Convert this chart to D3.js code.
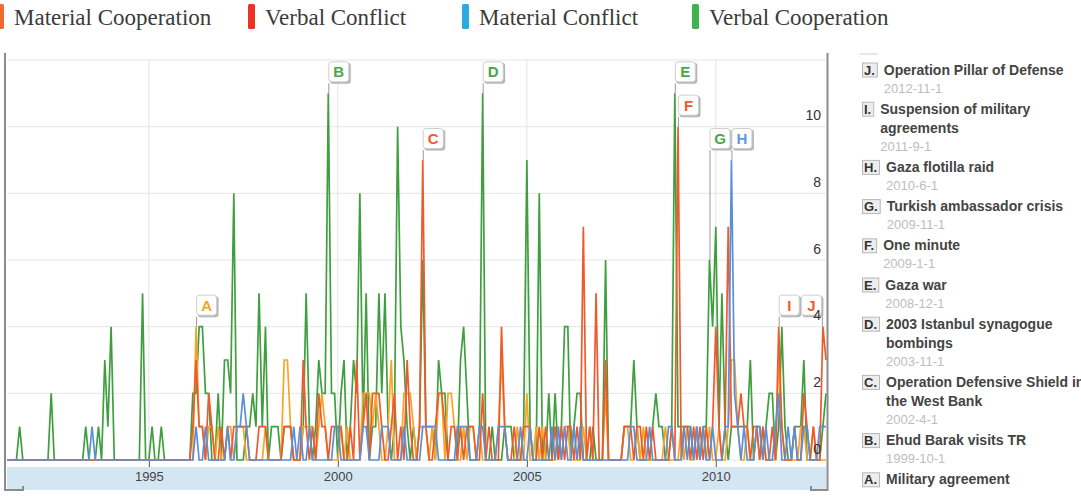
<!DOCTYPE html>
<html>
<head>
<meta charset="utf-8">
<script src="https://cdnjs.cloudflare.com/ajax/libs/d3/7.8.5/d3.min.js"></script>
<style>
body { margin: 0; background: #fff; }
svg { display: block; }
</style>
</head>
<body>
<div id="chart"></div>
<script>
// monthly event counts, April 1991 .. December 2012
var firstMonth = new Date(1991, 3, 1);

var verbalCooperation = [
  0,0,0,0,1,0,0,0,0,          // 1991 (Apr-Dec)
  0,0,0,0,0,2,0,0,0,0,0,0,    // 1992
  0,0,0,0,1,0,0,0,1,0,3,1,    // 1993
  4,0,0,0,0,0,0,0,0,0,5,0,    // 1994
  0,1,0,0,1,0,0,0,0,0,0,0,    // 1995
  0,0,2,2,4,4,2,2,0,0,2,0,    // 1996
  3,3,2,8,0,0,0,1,1,2,1,5,    // 1997
  1,4,0,1,1,1,0,1,1,1,0,0,    // 1998
  0,1,5,1,0,1,3,2,2,11,2,2,   // 1999
  0,2,3,0,1,3,2,8,1,5,0,1,    // 2000
  1,5,2,5,1,0,1,10,4,3,1,0,   // 2001
  1,0,1,6,1,1,1,0,3,2,2,0,    // 2002
  0,0,0,3,4,2,0,0,0,1,11,0,   // 2003
  0,1,0,0,0,1,1,1,0,0,0,1,    // 2004
  9,1,0,0,8,0,0,2,0,2,0,1,    // 2005
  4,4,0,1,2,2,0,0,0,1,0,0,    // 2006
  0,6,0,0,0,0,0,1,1,1,3,1,    // 2007
  0,0,0,0,1,2,1,1,0,0,1,11,   // 2008
  1,1,1,1,1,0,1,0,1,1,6,4,    // 2009
  7,1,5,1,0,1,1,1,1,1,1,3,    // 2010
  0,1,1,0,1,2,2,0,1,4,1,0,    // 2011
  0,1,1,1,3,0,0,0,0,0,1,2     // 2012
];

var materialCooperation = [
  0,0,0,0,0,0,0,0,0,
  0,0,0,0,0,0,0,0,0,0,0,0,
  0,0,0,0,0,0,0,0,0,0,0,0,
  0,0,0,0,0,0,0,0,0,0,0,0,
  0,0,0,0,0,0,0,0,0,0,0,0,
  0,0,0,4,1,1,0,1,1,0,1,0,    // 1996
  0,1,1,0,1,1,1,0,0,0,0,0,    // 1997
  0,1,0,0,0,0,0,3,3,1,0,0,    // 1998
  0,1,1,1,1,0,1,2,1,0,0,0,    // 1999
  0,1,0,1,0,0,0,0,2,2,2,1,    // 2000
  2,1,0,0,1,3,0,0,0,2,2,2,    // 2001
  1,0,1,1,1,0,1,0,2,2,0,2,    // 2002
  2,1,0,0,1,0,1,1,0,1,0,0,    // 2003
  0,0,0,1,3,1,0,0,0,1,0,0,    // 2004
  2,0,0,1,0,1,0,0,0,0,1,0,    // 2005
  1,1,0,0,0,0,1,0,1,0,0,0,    // 2006
  0,2,0,0,0,0,0,1,1,0,0,1,    // 2007
  0,1,0,0,0,0,0,0,1,0,0,0,    // 2008
  0,1,0,1,0,0,1,0,1,0,1,0,    // 2009
  0,1,0,0,1,3,3,1,0,0,1,0,    // 2010
  0,1,0,1,0,0,0,0,3,1,0,0,    // 2011
  0,0,0,1,1,0,0,1,0,0,0,0     // 2012
];

var verbalConflict = [
  0,0,0,0,0,0,0,0,0,
  0,0,0,0,0,0,0,0,0,0,0,0,
  0,0,0,0,0,0,0,0,0,0,0,0,
  0,0,0,0,0,0,0,0,0,0,0,0,
  0,0,0,0,0,0,0,0,0,0,0,0,
  0,0,1,3,1,1,0,2,1,0,0,1,    // 1996
  0,1,0,1,1,1,1,1,0,0,0,1,    // 1997
  1,1,0,0,0,0,0,1,1,1,0,0,    // 1998
  0,3,1,0,1,0,2,1,1,0,1,1,    // 1999
  1,1,0,0,1,0,3,0,1,2,0,2,    // 2000
  2,2,1,0,0,1,2,0,1,0,3,1,    // 2001
  0,0,1,9,1,0,0,1,2,2,1,0,    // 2002
  1,1,0,1,0,1,1,1,0,0,2,0,    // 2003
  1,0,0,0,4,1,0,0,1,0,0,1,    // 2004
  1,1,0,0,1,0,1,0,0,1,0,1,    // 2005
  0,1,1,0,1,0,7,0,1,0,5,0,    // 2006
  0,3,0,0,0,0,0,1,1,1,0,1,    // 2007
  1,0,1,0,1,0,0,0,0,0,1,0,    // 2008
  10,0,1,1,0,1,0,1,0,1,0,1,   // 2009
  4,1,0,1,7,1,1,1,2,1,1,0,    // 2010
  1,1,0,1,0,0,1,0,4,1,0,0,    // 2011
  0,1,0,0,2,1,0,1,0,0,4,3     // 2012
];

var materialConflict = [
  0,0,0,0,0,0,0,0,0,
  0,0,0,0,0,0,0,0,0,0,0,0,
  0,0,0,0,0,0,1,0,0,0,0,0,    // 1993
  0,0,0,0,0,0,0,0,0,0,0,0,
  0,0,0,0,0,0,0,0,0,0,0,0,
  0,0,0,1,0,0,1,0,0,0,0,0,    // 1996
  0,1,0,0,1,1,2,1,0,0,0,0,    // 1997
  0,0,0,0,0,0,0,0,0,0,1,0,    // 1998
  1,0,0,1,0,0,0,0,0,0,0,1,    // 1999
  1,0,0,0,0,0,0,0,1,1,0,0,    // 2000
  0,0,1,1,1,0,0,0,0,1,0,0,    // 2001
  0,0,0,1,1,1,1,1,0,0,0,0,    // 2002
  0,0,1,1,1,1,0,0,0,1,1,0,    // 2003
  0,0,0,1,1,1,0,0,0,0,1,0,    // 2004
  0,1,0,0,0,0,0,0,1,0,1,0,    // 2005
  1,0,0,1,0,1,0,0,0,0,0,0,    // 2006
  0,0,0,0,0,0,0,0,0,1,1,0,    // 2007
  0,0,0,1,0,0,0,0,0,1,1,0,    // 2008
  0,0,1,0,1,0,1,0,1,0,0,1,    // 2009
  0,0,0,1,1,9,2,1,0,1,0,0,    // 2010
  0,1,1,0,1,0,0,1,2,0,0,1,    // 2011
  0,1,0,0,1,1,0,0,0,1,1,1     // 2012
];

// legend
var legendNames = ["Material Cooperation", "Verbal Conflict", "Material Conflict", "Verbal Cooperation"];
var legendColors = ["#f26a2e", "#ec3323", "#2aabe2", "#3fb34f"];

// y ticks (right side) and x ticks
var yTicks = [0, 2, 4, 6, 8, 10];
var yGrid = [0, 2, 4, 6, 8, 10, 12];
var xYears = [1995, 2000, 2005, 2010];

// annotations
var annLetters = ["A", "B", "C", "D", "E", "F", "G", "H", "I", "J"];
var annTitles = ["Military agreement", "Ehud Barak visits TR",
  "Operation Defensive Shield in the West Bank", "2003 Istanbul synagogue bombings",
  "Gaza war", "One minute", "Turkish ambassador crisis", "Gaza flotilla raid",
  "Suspension of military agreements", "Operation Pillar of Defense"];
var annDates = ["1996-4-1", "1999-10-1", "2002-4-1", "2003-11-1", "2008-12-1",
  "2009-1-1", "2009-11-1", "2010-6-1", "2011-9-1", "2012-11-1"];
var annSeries = ["mc", "vc", "vf", "vc", "vc", "vf", "vc", "mf", "vf", "vf"];
var annFlagLevel = [4, 11, 9, 11, 11, 10, 9, 9, 4, 4];

var W = 1081, H = 497;

var lineColors = { vc: "#3f9f3f", mc: "#f6a623", vf: "#ef5a2d", mf: "#5b8fd9" };
var letterColors = { vc: "#46a846", mc: "#f6a21e", vf: "#f05a30", mf: "#5b9be0" };
var seriesData = { vc: verbalCooperation, mc: materialCooperation, vf: verbalConflict, mf: materialConflict };

var svg = d3.select("#chart").append("svg")
  .attr("width", W)
  .attr("height", H)
  .style("font-family", "'Liberation Sans', Arial, sans-serif");

var x = d3.scaleTime()
  .domain([firstMonth, new Date(2012, 11, 1)])
  .range([7, 826]);

var y = d3.scaleLinear().domain([0, 12]).range([460, 60]);

function monthOf(i) {
  return d3.timeMonth.offset(firstMonth, i);
}

// legend row
var leg = svg.append("g");
var legX = [-3, 248, 462, 692];
legendNames.forEach(function (name, i) {
  leg.append("rect")
    .attr("x", legX[i]).attr("y", 4)
    .attr("width", 7).attr("height", 25)
    .attr("rx", 1.5)
    .attr("fill", legendColors[i]);
  leg.append("text")
    .attr("x", legX[i] + 17).attr("y", 25)
    .style("font-family", "'Liberation Serif', 'Times New Roman', serif")
    .style("font-size", "23px")
    .attr("fill", "#3b3b3b")
    .text(name);
});

// gridlines
svg.append("g").selectAll("line").data(yGrid).enter().append("line")
  .attr("x1", 7).attr("x2", 826)
  .attr("y1", function (d) { return y(d); })
  .attr("y2", function (d) { return y(d); })
  .attr("stroke", "#e6e6e6");

svg.append("g").selectAll("line").data(xYears).enter().append("line")
  .attr("x1", function (d) { return x(new Date(d, 0, 1)); })
  .attr("x2", function (d) { return x(new Date(d, 0, 1)); })
  .attr("y1", 60).attr("y2", 460)
  .attr("stroke", "#e3e3e3");

// date band under the plot
svg.append("rect")
  .attr("x", 7).attr("y", 467)
  .attr("width", 819).attr("height", 23)
  .attr("fill", "#d5e6f3");

var xAxis = svg.append("g")
  .attr("transform", "translate(0,460)")
  .call(d3.axisBottom(x)
    .tickValues(xYears.map(function (d) { return new Date(d, 0, 1); }))
    .tickSize(7)
    .tickPadding(5)
    .tickFormat(d3.timeFormat("%Y")));
xAxis.select(".domain").remove();
xAxis.selectAll("line").attr("stroke", "#555");
xAxis.selectAll("text")
  .style("font-family", "'Liberation Sans', Arial, sans-serif")
  .style("font-size", "13px")
  .attr("fill", "#444");

// series lines
var line = d3.line()
  .x(function (d, i) { return x(monthOf(i)); })
  .y(function (d) { return y(d); });

["vc", "mc", "vf", "mf"].forEach(function (k) {
  svg.append("path")
    .datum(seriesData[k])
    .attr("d", line)
    .attr("fill", "none")
    .attr("stroke", lineColors[k])
    .attr("stroke-width", 1.7)
    .attr("stroke-linejoin", "miter");
});

// borders / zoom handles
var frame = svg.append("g").attr("stroke", "#8c8c8c").attr("fill", "none").attr("stroke-width", 2);
frame.append("path").attr("d", "M5,53 V490 H23 V486");
frame.append("path").attr("d", "M827.5,53 V490 H811 V486");

// flags
var parseAnn = d3.timeParse("%Y-%m-%d");
var flags = svg.append("g");
annLetters.forEach(function (letter, i) {
  var d = parseAnn(annDates[i]);
  var idx = d3.timeMonth.count(firstMonth, d);
  var px = x(d);
  var py = y(seriesData[annSeries[i]][idx]);
  var bottom = y(annFlagLevel[i]) - 10;
  var bx = px + 22 > 826 ? px - 22 : px;
  var lx = px + 22 > 826 ? px - 0.5 : px + 0.5;
  flags.append("line")
    .attr("x1", lx).attr("x2", lx)
    .attr("y1", bottom).attr("y2", py)
    .attr("stroke", "#9a9a9a").attr("stroke-width", 1);
  flags.append("rect")
    .attr("x", bx + 1.5).attr("y", bottom - 20.5)
    .attr("width", 21).attr("height", 21).attr("rx", 3)
    .attr("fill", "#b5b5b5");
  flags.append("rect")
    .attr("x", bx + 0.5).attr("y", bottom - 21.5)
    .attr("width", 20).attr("height", 20).attr("rx", 3)
    .attr("fill", "#fff").attr("stroke", "#cfcfcf");
  flags.append("text")
    .attr("x", bx + 10.5).attr("y", bottom - 6)
    .attr("text-anchor", "middle")
    .style("font-size", "15px").style("font-weight", "bold")
    .attr("fill", letterColors[annSeries[i]])
    .text(letter);
});

// right value labels (drawn over the flags, as in the original)
var yAxis = svg.append("g")
  .attr("transform", "translate(821,0)")
  .call(d3.axisLeft(y).tickValues(yTicks).tickSize(0).tickPadding(0));
yAxis.select(".domain").remove();
yAxis.selectAll("text")
  .attr("dy", -7)
  .style("font-family", "'Liberation Sans', Arial, sans-serif")
  .style("font-size", "14px")
  .attr("fill", "#333");

// annotation list on the right
var panel = svg.append("g");
panel.append("line")
  .attr("x1", 860).attr("x2", 878).attr("y1", 54).attr("y2", 54)
  .attr("stroke", "#cfcfcf");

var cy = 69.5;
d3.range(annLetters.length - 1, -1, -1).forEach(function (i) {
  var lab = panel.append("text")
    .attr("x", 864).attr("y", cy + 5)
    .style("font-size", "13px").style("font-weight", "bold")
    .attr("fill", "#333")
    .text(annLetters[i] + ".");
  var lw = lab.node().getComputedTextLength();
  panel.insert("rect", "text")
    .attr("x", 862.5).attr("y", cy - 6.5)
    .attr("width", lw + 4).attr("height", 14)
    .attr("fill", "#ededed").attr("stroke", "#b8b8b8");
  var tx = 862 + lw + 4 + 7;

  // word wrap the title
  var words = annTitles[i].split(" ");
  var cur = [];
  var t = panel.append("text")
    .attr("x", tx).attr("y", cy + 5)
    .style("font-size", "14px").style("font-weight", "bold")
    .attr("fill", "#444");
  words.forEach(function (w) {
    cur.push(w);
    t.text(cur.join(" "));
    if (t.node().getComputedTextLength() > 215 && cur.length > 1) {
      cur.pop();
      t.text(cur.join(" "));
      cy += 19;
      cur = [w];
      t = panel.append("text")
        .attr("x", tx).attr("y", cy + 5)
        .style("font-size", "14px").style("font-weight", "bold")
        .attr("fill", "#444")
        .text(w);
    }
  });
  cy += 18.5;
  // the last date falls below the visible area in the original
  if (cy < H - 8) {
    panel.append("text")
      .attr("x", tx).attr("y", cy + 4.5)
      .style("font-size", "13px")
      .attr("fill", "#bdbdbd")
      .text(annDates[i]);
  }
  cy += 20.7;
});
</script>
</body>
</html>
